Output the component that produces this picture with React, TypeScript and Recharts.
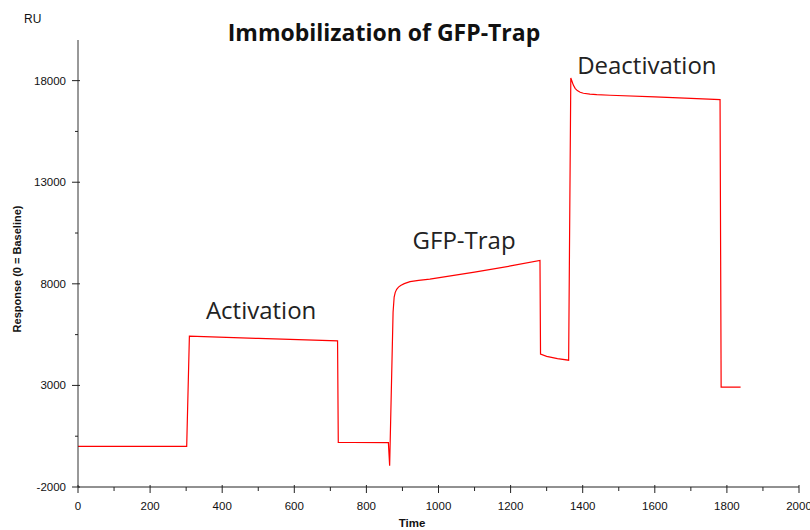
import React from 'react';
import { LineChart, Line, XAxis, YAxis, ReferenceDot } from 'recharts';

// sensorgram trace
const time = [
  0, 300, 301.5, 309, 500, 720, 722, 760, 861, 864.5, 874, 877, 880, 884, 889, 895, 905, 921, 945, 976,
  1100, 1200, 1281.5, 1283, 1300, 1330, 1361, 1367, 1370, 1374, 1379, 1385, 1393, 1402, 1420, 1439,
  1476, 1600, 1700, 1781, 1784, 1838,
];
const response = [
  0, 0, 0, 5420, 5310, 5190, 200, 190, 180, -950, 6600, 7350, 7580, 7730, 7840, 7920, 8010, 8110, 8170,
  8230, 8580, 8880, 9155, 4540, 4430, 4320, 4240, 18130, 17980, 17780, 17620, 17510, 17430, 17380,
  17340, 17310, 17280, 17200, 17130, 17070, 2920, 2920,
];

const xMajorTicks = [0, 200, 400, 600, 800, 1000, 1200, 1400, 1600, 1800, 2000];
const xMinorTicks = [100, 300, 500, 700, 900, 1100, 1300, 1500, 1700, 1900];
const yMajorTicks = [-2000, 3000, 8000, 13000, 18000];
const yMinorTicks = [500, 5500, 10500, 15500];

const phaseLabels = ['Activation', 'GFP-Trap', 'Deactivation'];
const phaseLabelTime = [508, 1071, 1578];
const phaseLabelResponse = [6255, 9695, 18344];

const data = time.map((t, i) => ({ time: t, response: response[i] }));

const axisFont = '"Liberation Sans", Arial, sans-serif';
const labelFont = '"Open Sans", "Noto Sans", sans-serif';

function YTick(props: any) {
  const { x, y, payload } = props;
  const major = yMajorTicks.includes(payload.value);
  return (
    <g>
      <line x1={major ? x - 6 : x - 3} x2={major ? x + 2 : x} y1={y} y2={y} stroke="#222" />
      {major && (
        <text x={x - 12} y={y} dy="0.35em" textAnchor="end" fontSize={11.5} fill="#111" fontFamily={axisFont}>
          {payload.value}
        </text>
      )}
    </g>
  );
}

function XTick(props: any) {
  const { x, y, payload } = props;
  const major = xMajorTicks.includes(payload.value);
  return (
    <g>
      <line x1={x} x2={x} y1={major ? y - 2 : y} y2={major ? y + 6 : y + 4} stroke="#222" />
      {major && (
        <text x={x} y={y + 19} dy="0.35em" textAnchor="middle" fontSize={11.5} fill="#111" fontFamily={axisFont}>
          {payload.value}
        </text>
      )}
    </g>
  );
}

export default function App() {
  return (
    <div style={{ position: 'absolute', left: 0, top: 0, width: 810, height: 530, background: '#fff' }}>
      <LineChart width={810} height={530} data={data} margin={{ top: 40, right: 11, left: 0, bottom: 0 }}>
        <XAxis
          dataKey="time"
          type="number"
          domain={[0, 2000]}
          ticks={[...xMajorTicks, ...xMinorTicks].sort((a, b) => a - b)}
          interval={0}
          height={43}
          tickSize={0}
          tickMargin={0}
          tickLine={false}
          tick={<XTick />}
          stroke="#222"
        />
        <YAxis
          type="number"
          domain={[-2000, 20000]}
          ticks={[...yMajorTicks, ...yMinorTicks].sort((a, b) => a - b)}
          interval={0}
          width={78}
          tickSize={0}
          tickMargin={0}
          tickLine={false}
          tick={<YTick />}
          stroke="#333"
        />
        <Line
          type="linear"
          dataKey="response"
          stroke="#ff0000"
          strokeWidth={1.2}
          dot={false}
          isAnimationActive={false}
        />
        {phaseLabels.map((name, i) => (
          <ReferenceDot
            key={name}
            x={phaseLabelTime[i]}
            y={phaseLabelResponse[i]}
            r={0}
            fill="none"
            stroke="none"
            label={(p: any) => (
              <text
                x={p.viewBox.x}
                y={p.viewBox.y}
                textAnchor="middle"
                fontSize={24}
                fill="#222"
                fontFamily={labelFont}
              >
                {name}
              </text>
            )}
          />
        ))}
      </LineChart>
      <svg width={810} height={530} style={{ position: 'absolute', left: 0, top: 0, pointerEvents: 'none' }}>
        <text x={384} y={41} textAnchor="middle" fontSize={23} fontWeight="bold" fill="#111" fontFamily={labelFont}>
          Immobilization of GFP-Trap
        </text>
        <text x={24} y={23} fontSize={12} fill="#111" fontFamily={axisFont}>
          RU
        </text>
        <text
          x={0}
          y={0}
          transform="translate(21,269) rotate(-90)"
          textAnchor="middle"
          fontSize={11}
          fontWeight="bold"
          fill="#111"
          fontFamily={axisFont}
        >
          Response (0 = Baseline)
        </text>
        <text x={412} y={527} textAnchor="middle" fontSize={11.5} fontWeight="bold" fill="#111" fontFamily={axisFont}>
          Time
        </text>
      </svg>
    </div>
  );
}
